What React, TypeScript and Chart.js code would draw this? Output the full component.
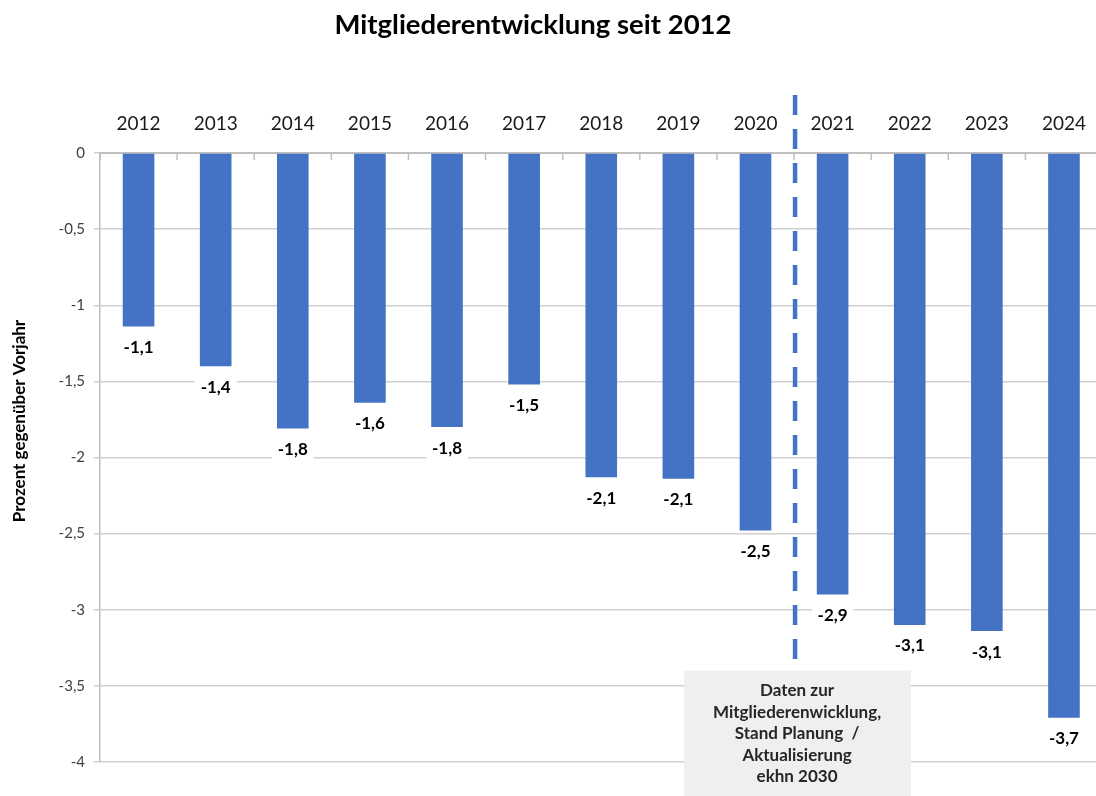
import React, { useEffect, useRef } from "react";
import { Chart, registerables } from "chart.js";

Chart.register(...registerables);

const years = ["2012", "2013", "2014", "2015", "2016", "2017", "2018", "2019", "2020", "2021", "2022", "2023", "2024"];
const changeValues = [-1.14, -1.4, -1.81, -1.64, -1.8, -1.52, -2.13, -2.14, -2.48, -2.9, -3.1, -3.14, -3.71];
const changeLabels = ["-1,1", "-1,4", "-1,8", "-1,6", "-1,8", "-1,5", "-2,1", "-2,1", "-2,5", "-2,9", "-3,1", "-3,1", "-3,7"];
const noteLines = ["Daten zur", "Mitgliederenwicklung,", "Stand Planung  /", "Aktualisierung", "ekhn 2030"];
const titleText = "Mitgliederentwicklung seit 2012";
const yTitle = "Prozent gegenüber Vorjahr";

const FONT = "Lato, 'Open Sans', sans-serif";
const BLUE = "#4472C4";

export default function App() {
  const ref = useRef<HTMLCanvasElement>(null);
  useEffect(() => {
    if (!ref.current) return;
    const overlay = {
      id: "overlay",
      afterDatasetsDraw(chart: any) {
        const ctx = chart.ctx;
        const xs = chart.scales.x;
        const ys = chart.scales.y;
        const area = chart.chartArea;
        ctx.save();
        // inward ticks on top axis at category boundaries
        ctx.strokeStyle = "#bfbfbf";
        ctx.lineWidth = 1.5;
        const step = xs.getPixelForValue(1) - xs.getPixelForValue(0);
        for (let i = 0; i <= years.length; i++) {
          const x = xs.getPixelForValue(0) - step / 2 + i * step;
          ctx.beginPath();
          ctx.moveTo(x, area.top);
          ctx.lineTo(x, area.top + 7);
          ctx.stroke();
        }
        // data labels with white boxes
        ctx.font = `bold 17px ${FONT}`;
        ctx.textAlign = "center";
        ctx.textBaseline = "middle";
        changeValues.forEach((v, i) => {
          const x = xs.getPixelForValue(i);
          const y = ys.getPixelForValue(v) + 21;
          ctx.fillStyle = "#ffffff";
          ctx.fillRect(x - 21, y - 12, 42, 24);
          ctx.fillStyle = "#000000";
          ctx.fillText(changeLabels[i], x, y);
        });
        // dashed divider between 2020 and 2021
        const dx = (xs.getPixelForValue(8) + xs.getPixelForValue(9)) / 2 + 1;
        ctx.strokeStyle = BLUE;
        ctx.lineWidth = 4.5;
        ctx.setLineDash([20, 14]);
        ctx.beginPath();
        ctx.moveTo(dx, area.top - 58);
        ctx.lineTo(dx, ys.getPixelForValue(-3.34));
        ctx.stroke();
        ctx.setLineDash([]);
        // note box
        const bx = dx - 111;
        const by = ys.getPixelForValue(-3.4);
        ctx.fillStyle = "#efefef";
        ctx.fillRect(bx, by, 227, 130);
        ctx.fillStyle = "#262626";
        ctx.font = `bold 17px ${FONT}`;
        noteLines.forEach((t, k) => {
          ctx.fillText(t, bx + 113, by + 20 + k * 21.5);
        });
        // title
        ctx.fillStyle = "#000000";
        ctx.font = `bold 27.5px ${FONT}`;
        ctx.fillText(titleText, 533, 25);
        // y title
        ctx.translate(20, 421);
        ctx.rotate(-Math.PI / 2);
        ctx.font = `bold 17px ${FONT}`;
        ctx.fillText(yTitle, 0, 0);
        ctx.restore();
      },
    };
    const chart = new Chart(ref.current, {
      type: "bar",
      data: {
        labels: years,
        datasets: [
          {
            data: changeValues,
            backgroundColor: BLUE,
            barPercentage: 0.41,
            categoryPercentage: 1,
          },
        ],
      },
      options: {
        animation: false,
        responsive: false,
        devicePixelRatio: 1,
        layout: { padding: { left: 0, top: 0, right: 0, bottom: 34 } },
        plugins: { legend: { display: false }, tooltip: { enabled: false }, title: { display: false } },
        scales: {
          x: {
            position: "top",
            grid: { display: false, drawTicks: false },
            border: { display: true, color: "#bfbfbf", width: 2 },
            ticks: { font: { family: FONT, size: 19 }, color: "#1a1a1a", padding: 18, maxRotation: 0 },
            afterFit: (s: any) => {
              s.height = 153;
            },
          },
          y: {
            min: -4,
            max: 0,
            grid: { color: "#d0d0d0", lineWidth: 1.5, tickLength: 6, drawTicks: true },
            border: { display: true, color: "#bfbfbf", width: 1.5 },
            ticks: {
              stepSize: 0.5,
              font: { family: FONT, size: 15 },
              color: "#404040",
              padding: 9,
              callback: (v: any) => String(Number(v)).replace(".", ","),
            },
            afterFit: (s: any) => {
              s.width = 100;
            },
          },
        },
      },
      plugins: [overlay],
    });
    return () => chart.destroy();
  }, []);
  return (
    <div style={{ position: "absolute", left: 0, top: 0, width: 1096, height: 796, overflow: "hidden", background: "#fff" }}>
      <canvas ref={ref} width={1104} height={796} style={{ width: 1104, height: 796, display: "block" }} />
    </div>
  );
}
